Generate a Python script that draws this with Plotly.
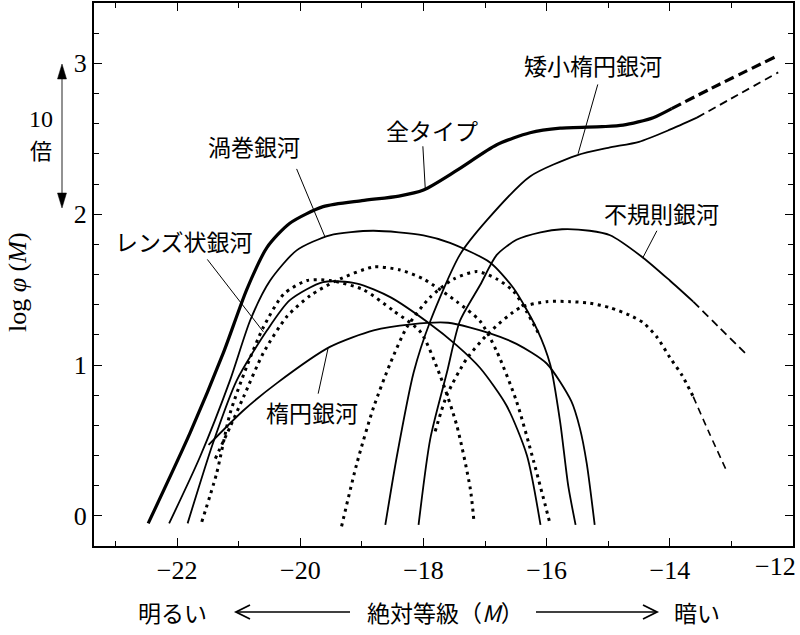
import plotly.graph_objects as go

# ---- data (absolute magnitude M, log phi) ----
all_x = [-22.47, -21.79, -21.25, -20.87, -20.54, -20.17, -19.63, -19.0, -18.4, -18.0, -17.46, -16.81, -16.27, -15.78, -15.1, -14.76, -14.27, -13.97]
all_y = [-0.05, 0.55, 1.08, 1.50, 1.78, 1.94, 2.05, 2.09, 2.12, 2.16, 2.29, 2.46, 2.54, 2.57, 2.58, 2.59, 2.64, 2.70]
all_ext_x = [-13.97, -13.2, -12.3]
all_ext_y = [2.70, 2.86, 3.04]

spiral_x = [-22.13, -21.63, -21.14, -20.81, -20.49, -20.06, -19.52, -18.82, -18.0, -17.57, -16.92, -16.54, -16.16, -15.94, -15.78, -15.65, -15.53]
spiral_y = [-0.05, 0.39, 0.90, 1.30, 1.56, 1.76, 1.86, 1.89, 1.86, 1.81, 1.68, 1.51, 1.24, 1.00, 0.62, 0.20, -0.06]

lent_x = [-21.83, -21.42, -21.03, -20.54, -20.17, -19.63, -19.08, -18.54, -17.92, -17.46, -17.08, -16.65, -16.32, -16.10]
lent_y = [-0.05, 0.48, 0.90, 1.23, 1.43, 1.55, 1.54, 1.45, 1.28, 1.13, 0.98, 0.73, 0.40, -0.06]

ell_x = [-21.49, -20.92, -20.38, -19.52, -18.81, -18.2, -17.6, -16.92, -16.49, -16.0, -15.60, -15.46, -15.35, -15.22]
ell_y = [0.47, 0.70, 0.88, 1.12, 1.23, 1.27, 1.28, 1.21, 1.14, 1.01, 0.76, 0.58, 0.35, -0.06]

dwarf_x = [-18.62, -18.43, -18.16, -17.89, -17.41, -16.97, -16.27, -15.51, -15.0, -14.5, -14.0, -13.56]
dwarf_y = [-0.06, 0.40, 0.95, 1.29, 1.73, 1.96, 2.25, 2.39, 2.44, 2.48, 2.56, 2.64]
dwarf_ext_x = [-13.56, -12.9, -12.24]
dwarf_ext_y = [2.64, 2.79, 2.94]

irr_x = [-18.08, -17.89, -17.62, -17.41, -17.08, -16.81, -16.49, -16.1, -15.75, -15.3, -14.97, -14.43, -14.0, -13.62]
irr_y = [-0.06, 0.51, 0.95, 1.29, 1.53, 1.73, 1.83, 1.88, 1.90, 1.89, 1.86, 1.71, 1.56, 1.42]
irr_ext_x = [-13.62, -13.2, -12.78]
irr_ext_y = [1.42, 1.25, 1.08]

d1_x = [-21.60, -21.36, -21.14, -20.87, -20.60, -20.27, -19.89, -19.52, -18.98, -18.49, -18.05, -17.73, -17.46, -17.24, -17.18]
d1_y = [-0.04, 0.28, 0.68, 0.99, 1.25, 1.47, 1.56, 1.56, 1.50, 1.36, 1.22, 0.93, 0.60, 0.18, -0.04]

d2_x = [-21.38, -21.14, -20.92, -20.60, -20.22, -19.84, -19.41, -18.81, -18.38, -18.0, -17.46, -17.08, -16.81, -16.49, -16.21, -15.94]
d2_y = [0.38, 0.59, 0.79, 1.08, 1.32, 1.46, 1.56, 1.65, 1.63, 1.57, 1.42, 1.29, 1.09, 0.76, 0.36, -0.06]

d3_x = [-19.33, -19.08, -18.81, -18.54, -18.27, -17.89, -17.51, -17.13, -16.81, -16.54, -16.32, -16.12]
d3_y = [-0.07, 0.35, 0.72, 1.01, 1.25, 1.45, 1.57, 1.62, 1.57, 1.49, 1.35, 1.20]

d4_x = [-17.81, -17.62, -17.30, -16.92, -16.43, -16.0, -15.62, -15.3, -14.97, -14.65, -14.43, -14.2, -14.0, -13.8, -13.62]
d4_y = [0.56, 0.80, 1.04, 1.22, 1.38, 1.42, 1.42, 1.41, 1.38, 1.33, 1.28, 1.18, 1.05, 0.93, 0.79]
d4_ext_x = [-13.62, -13.35, -13.08]
d4_ext_y = [0.79, 0.54, 0.30]

x_ticks = [-22, -20, -18, -16, -14, -12]
x_ticklabels = ["−22", "−20", "−18", "−16", "−14", ""]
last_xlabel = "−12"
y_ticks = [0, 1, 2, 3]
y_ticklabels = ["0", "1", "2", "3"]

# ---- figure ----
W, H = 800, 635
L, R, T, B = 94, 7, 3, 89
PW, PH = W - L - R, H - T - B

def P(px, py):
    return (px - L) / PW, (H - B - py) / PH

fig = go.Figure()

DOT = "3px,4.5px"

def add(x, y, width=1.8, dash="solid"):
    fig.add_trace(go.Scatter(x=x, y=y, mode="lines",
                             line=dict(color="black", width=width, dash=dash,
                                       shape="spline", smoothing=0.7),
                             hoverinfo="skip", showlegend=False))

for dx, dy in [(d1_x, d1_y), (d2_x, d2_y), (d3_x, d3_y), (d4_x, d4_y)]:
    add(dx, dy, width=3, dash=DOT)
add(d4_ext_x, d4_ext_y, width=1.6, dash="7px,5px")

add(lent_x, lent_y)
add(ell_x, ell_y)
add(spiral_x, spiral_y)
add(dwarf_x, dwarf_y)
add(dwarf_ext_x, dwarf_ext_y, dash="8px,5px")
add(irr_x, irr_y)
add(irr_ext_x, irr_ext_y, dash="8px,5px")
add(all_x, all_y, width=3.2)
add(all_ext_x, all_ext_y, width=3.2, dash="10px,5px")

JP = "Noto Sans CJK JP"
SERIF = "Liberation Serif, DejaVu Serif, serif"

labels = [
    ("矮小楕円銀河", -15.25, 2.99, (-15.17, 2.86), (-15.49, 2.40)),
    ("全タイプ", -17.86, 2.56, (-18.01, 2.45), (-17.97, 2.16)),
    ("渦巻銀河", -20.76, 2.45, (-20.06, 2.30), (-19.60, 1.85)),
    ("レンズ状銀河", -21.89, 1.82, (-21.51, 1.70), (-20.60, 1.22)),
    ("楕円銀河", -19.81, 0.69, (-19.71, 0.81), (-19.55, 1.11)),
    ("不規則銀河", -14.14, 2.01, (-14.21, 1.89), (-14.44, 1.71)),
]
shapes = []
annotations = []
for txt, lx, ly, p1, p2 in labels:
    annotations.append(dict(x=lx, y=ly, xref="x", yref="y", text=txt, showarrow=False,
                            font=dict(family=JP, size=23, color="black"),
                            xanchor="center", yanchor="middle"))
    shapes.append(dict(type="line", xref="x", yref="y", x0=p1[0], y0=p1[1], x1=p2[0], y1=p2[1],
                       line=dict(color="black", width=1)))

# last x tick label, pulled inside the page like the reference
u, v = P(775, 566)
annotations.append(dict(x=u, y=v, xref="paper", yref="paper", text=last_xlabel, showarrow=False,
                        font=dict(family=SERIF, size=26, color="black"),
                        xanchor="center", yanchor="middle"))

# x-axis title with arrows
ty = 612
for txt, cx in [("明るい", 172), ("絶対等級（<i>M</i>）", 445), ("暗い", 697)]:
    px_, py_ = P(cx, ty)
    annotations.append(dict(x=px_, y=py_, xref="paper", yref="paper", text=txt, showarrow=False,
                            font=dict(family=JP, size=23, color="black"),
                            xanchor="center", yanchor="middle"))

def path(points, close=False):
    s = ""
    for i, (a, b) in enumerate(points):
        u, v = P(a, b)
        s += ("M" if i == 0 else "L") + f"{u:.5f},{v:.5f} "
    if close:
        s += "Z"
    return s

# left arrow
shapes.append(dict(type="path", xref="paper", yref="paper", path=path([(236, ty), (350, ty)]),
                   line=dict(color="black", width=1.5)))
shapes.append(dict(type="path", xref="paper", yref="paper", path=path([(250, ty - 7), (236, ty), (250, ty + 7)]),
                   line=dict(color="black", width=1.8)))
# right arrow
shapes.append(dict(type="path", xref="paper", yref="paper", path=path([(536, ty), (657, ty)]),
                   line=dict(color="black", width=1.5)))
shapes.append(dict(type="path", xref="paper", yref="paper", path=path([(643, ty - 7), (657, ty), (643, ty + 7)]),
                   line=dict(color="black", width=1.8)))

# 10x double arrow
ax_ = 62
shapes.append(dict(type="path", xref="paper", yref="paper", path=path([(ax_, 76), (ax_, 196)]),
                   line=dict(color="#777777", width=1.6)))
shapes.append(dict(type="path", xref="paper", yref="paper",
                   path=path([(ax_, 64), (ax_ - 4.5, 79), (ax_ + 4.5, 79)], close=True),
                   line=dict(color="black", width=0.5), fillcolor="black"))
shapes.append(dict(type="path", xref="paper", yref="paper",
                   path=path([(ax_, 208), (ax_ - 4.5, 193), (ax_ + 4.5, 193)], close=True),
                   line=dict(color="black", width=0.5), fillcolor="black"))
for txt, cy, fam, fs in [("10", 119, SERIF, 24), ("倍", 149, JP, 22)]:
    u, v = P(41, cy)
    annotations.append(dict(x=u, y=v, xref="paper", yref="paper", text=txt, showarrow=False,
                            font=dict(family=fam, size=fs, color="black"),
                            xanchor="center", yanchor="middle"))

# y-axis title
u, v = P(17, 282)
annotations.append(dict(x=u, y=v, xref="paper", yref="paper", text="log <i>φ</i> (<i>M</i>)",
                        showarrow=False, textangle=-90,
                        font=dict(family=SERIF, size=26, color="black"),
                        xanchor="center", yanchor="middle"))

fig.update_layout(
    width=W, height=H,
    margin=dict(l=L, r=R, t=T, b=B, pad=0, autoexpand=False),
    paper_bgcolor="white", plot_bgcolor="white",
    font=dict(family=SERIF, color="black"),
    showlegend=False,
    shapes=shapes, annotations=annotations,
    xaxis=dict(range=[-23.35, -12], tickvals=x_ticks, ticktext=x_ticklabels,
               ticks="inside", ticklen=8, tickwidth=1, tickcolor="black",
               minor=dict(dtick=1, tick0=-22, ticks="inside", ticklen=5, tickcolor="black", tickwidth=1),
               showline=True, linecolor="black", linewidth=2, mirror="allticks",
               showgrid=False, zeroline=False, automargin=False,
               tickfont=dict(family=SERIF, size=26, color="black")),
    yaxis=dict(range=[-0.2, 3.4], tickvals=y_ticks, ticktext=y_ticklabels,
               ticks="inside", ticklen=8, tickwidth=1, tickcolor="black",
               minor=dict(dtick=0.2, tick0=0, ticks="inside", ticklen=5, tickcolor="black", tickwidth=1),
               showline=True, linecolor="black", linewidth=2, mirror="allticks",
               showgrid=False, zeroline=False, automargin=False,
               tickfont=dict(family=SERIF, size=26, color="black")),
)

fig.write_html("out.html", config={"displayModeBar": False},
               post_script="document.body.style.margin='0';")
